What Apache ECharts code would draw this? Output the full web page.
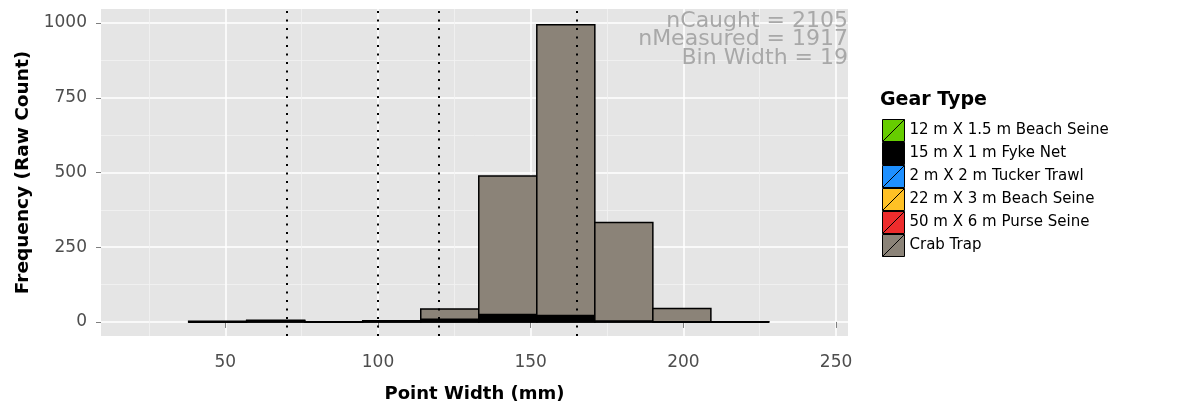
<!DOCTYPE html>
<html>
<head>
<meta charset="utf-8">
<title>Point Width by Gear Type</title>
<script src="https://cdn.jsdelivr.net/npm/echarts@6/dist/echarts.min.js"></script>
<style>
  html, body { margin: 0; padding: 0; background: #ffffff; }
  #chart { width: 1186px; height: 406px; }
</style>
</head>
<body>
<div id="chart"></div>
<script>
// Histogram bins (mm): edges of each 19 mm bin
const binEdges = [38, 57, 76, 95, 114, 133, 152, 171, 190, 209, 228];

// Gear types in legend / stacking order (first one sits at the bottom of each stack)
const gearTypes = [
  '12 m X 1.5 m Beach Seine',
  '15 m X 1 m Fyke Net',
  '2 m X 2 m Tucker Trawl',
  '22 m X 3 m Beach Seine',
  '50 m X 6 m Purse Seine',
  'Crab Trap'
];
const gearColors = ['#66CD00', '#000000', '#1E90FF', '#FFC125', '#EE2C2C', '#8B8378'];

// Counts per bin for each gear type
const beachSeine12 = [0, 0, 0, 0, 0, 0, 0, 0, 0, 0];
const fykeNet15    = [0, 4, 0, 2, 9, 25, 22, 3, 1, 0];
const tuckerTrawl2 = [0, 0, 0, 0, 0, 0, 0, 0, 0, 0];
const beachSeine22 = [0, 0, 0, 0, 0, 0, 0, 0, 0, 0];
const purseSeine50 = [0, 0, 0, 0, 0, 0, 0, 0, 0, 0];
const crabTrap     = [2, 2, 1, 2, 34, 463, 972, 330, 44, 1];

// Reference lines (mm)
const cutoffs = [70, 100, 120, 165];

// Axis ticks
const xTicks = [50, 100, 150, 200, 250];
const xMinorTicks = [25, 75, 125, 175, 225];
const yTicks = [0, 250, 500, 750, 1000];
const yMinorTicks = [125, 375, 625, 875];

const nCaught = 2105;

const gearCounts = [beachSeine12, fykeNet15, tuckerTrawl2, beachSeine22, purseSeine50, crabTrap];
const nMeasured = gearCounts.reduce((s, arr) => s + arr.reduce((a, b) => a + b, 0), 0);
const binWidth = binEdges[1] - binEdges[0];

// Stack the counts: each item is [x0, x1, y0, y1]
const base = new Array(binEdges.length - 1).fill(0);
const stackedData = gearCounts.map(counts => counts.map((c, i) => {
  const y0 = base[i];
  base[i] += c;
  return [binEdges[i], binEdges[i + 1], y0, base[i]];
}));

const FONT = '"DejaVu Sans", sans-serif';

function renderBin(color) {
  return function (params, api) {
    const topLeft = api.coord([api.value(0), api.value(3)]);
    const bottomRight = api.coord([api.value(1), api.value(2)]);
    return {
      type: 'rect',
      shape: {
        x: topLeft[0],
        y: topLeft[1],
        width: bottomRight[0] - topLeft[0],
        height: bottomRight[1] - topLeft[1]
      },
      style: { fill: color, stroke: '#000000', lineWidth: 1.5 }
    };
  };
}

const series = gearTypes.map((name, k) => ({
  name: name,
  type: 'custom',
  xAxisIndex: 0,
  yAxisIndex: 0,
  itemStyle: { color: gearColors[k], borderColor: '#000000', borderWidth: 1 },
  encode: { x: [0, 1], y: [2, 3] },
  renderItem: renderBin(gearColors[k]),
  data: stackedData[k],
  silent: true,
  z: 2
}));

series.push({
  name: 'cutoffs',
  type: 'line',
  data: [],
  z: 5,
  silent: true,
  markLine: {
    silent: true,
    symbol: ['none', 'none'],
    label: { show: false },
    lineStyle: { color: '#000000', width: 2, type: [2, 6.5] },
    data: cutoffs.map(v => ({ xAxis: v }))
  }
});

const tickLabelStyle = { fontFamily: FONT, fontSize: 17, color: '#4d4d4d' };
const tickLine = { color: '#7f7f7f', width: 1 };

// Sample-size notes in the panel's upper-right corner, one right-aligned line each
const noteLines = [
  'nCaught = ' + nCaught,
  'nMeasured = ' + nMeasured,
  'Bin Width = ' + binWidth
];
const noteGraphics = noteLines.map((t, i) => ({
  type: 'text',
  right: 338,
  top: 10 + i * 18.5,
  z: 10,
  style: { text: t, font: '22px "DejaVu Sans", sans-serif', fill: '#a8a8a8' }
}));

const option = {
  animation: false,
  backgroundColor: '#ffffff',
  grid: {
    left: 101, top: 9, right: 338, bottom: 70,
    outerBoundsMode: 'none',
    show: true, backgroundColor: '#E5E5E5', borderWidth: 0
  },
  xAxis: [
    {
      type: 'value',
      position: 'bottom',
      min: 9.3, max: 253.9,
      axisLine: { show: false },
      axisTick: { show: true, length: 6, lineStyle: tickLine, customValues: xTicks },
      axisLabel: { margin: 18, customValues: xTicks, formatter: v => String(v), ...tickLabelStyle },
      splitLine: { show: true, lineStyle: { color: '#ffffff', width: 1.5 } },
      name: 'Point Width (mm)',
      nameLocation: 'middle',
      nameGap: 49,
      nameTextStyle: { fontFamily: FONT, fontSize: 18, fontWeight: 'bold', color: '#000000' }
    },
    {
      type: 'value',
      position: 'top',
      min: 9.3, max: 253.9,
      axisLine: { show: false },
      axisTick: { show: false, customValues: xMinorTicks },
      axisLabel: { show: false, customValues: xMinorTicks },
      splitLine: { show: true, lineStyle: { color: '#F2F2F2', width: 0.8 } }
    }
  ],
  yAxis: [
    {
      type: 'value',
      position: 'left',
      min: -47, max: 1047,
      axisLine: { show: false },
      axisTick: { show: true, length: 5, lineStyle: tickLine, customValues: yTicks },
      axisLabel: { margin: 14, customValues: yTicks, formatter: v => String(v), ...tickLabelStyle },
      splitLine: { show: true, lineStyle: { color: '#ffffff', width: 1.5 } },
      name: 'Frequency (Raw Count)',
      nameLocation: 'middle',
      nameGap: 66,
      nameTextStyle: { fontFamily: FONT, fontSize: 18.5, fontWeight: 'bold', color: '#000000' }
    },
    {
      type: 'value',
      position: 'right',
      min: -47, max: 1047,
      axisLine: { show: false },
      axisTick: { show: false, customValues: yMinorTicks },
      axisLabel: { show: false, customValues: yMinorTicks },
      splitLine: { show: true, lineStyle: { color: '#F2F2F2', width: 0.8 } }
    }
  ],
  legend: {
    orient: 'vertical',
    left: 882,
    top: 119,
    padding: 0,
    itemWidth: 22,
    itemHeight: 22,
    itemGap: 0,
    selectedMode: false,
    data: gearTypes,
    icon: 'path://M0,0L20,0L20,20L0,20Z M0,20L20,0',
    itemStyle: { borderColor: '#000000', borderWidth: 1 },
    textStyle: { fontFamily: FONT, fontSize: 15, color: '#000000', lineHeight: 20 }
  },
  graphic: [
    {
      type: 'text',
      left: 880,
      top: 91,
      style: { text: 'Gear Type', font: 'bold 19px "DejaVu Sans", sans-serif', fill: '#000000' }
    }
  ].concat(noteGraphics),
  series: series
};

const chart = echarts.init(document.getElementById('chart'), null, { renderer: 'canvas' });
chart.setOption(option);
</script>
</body>
</html>
